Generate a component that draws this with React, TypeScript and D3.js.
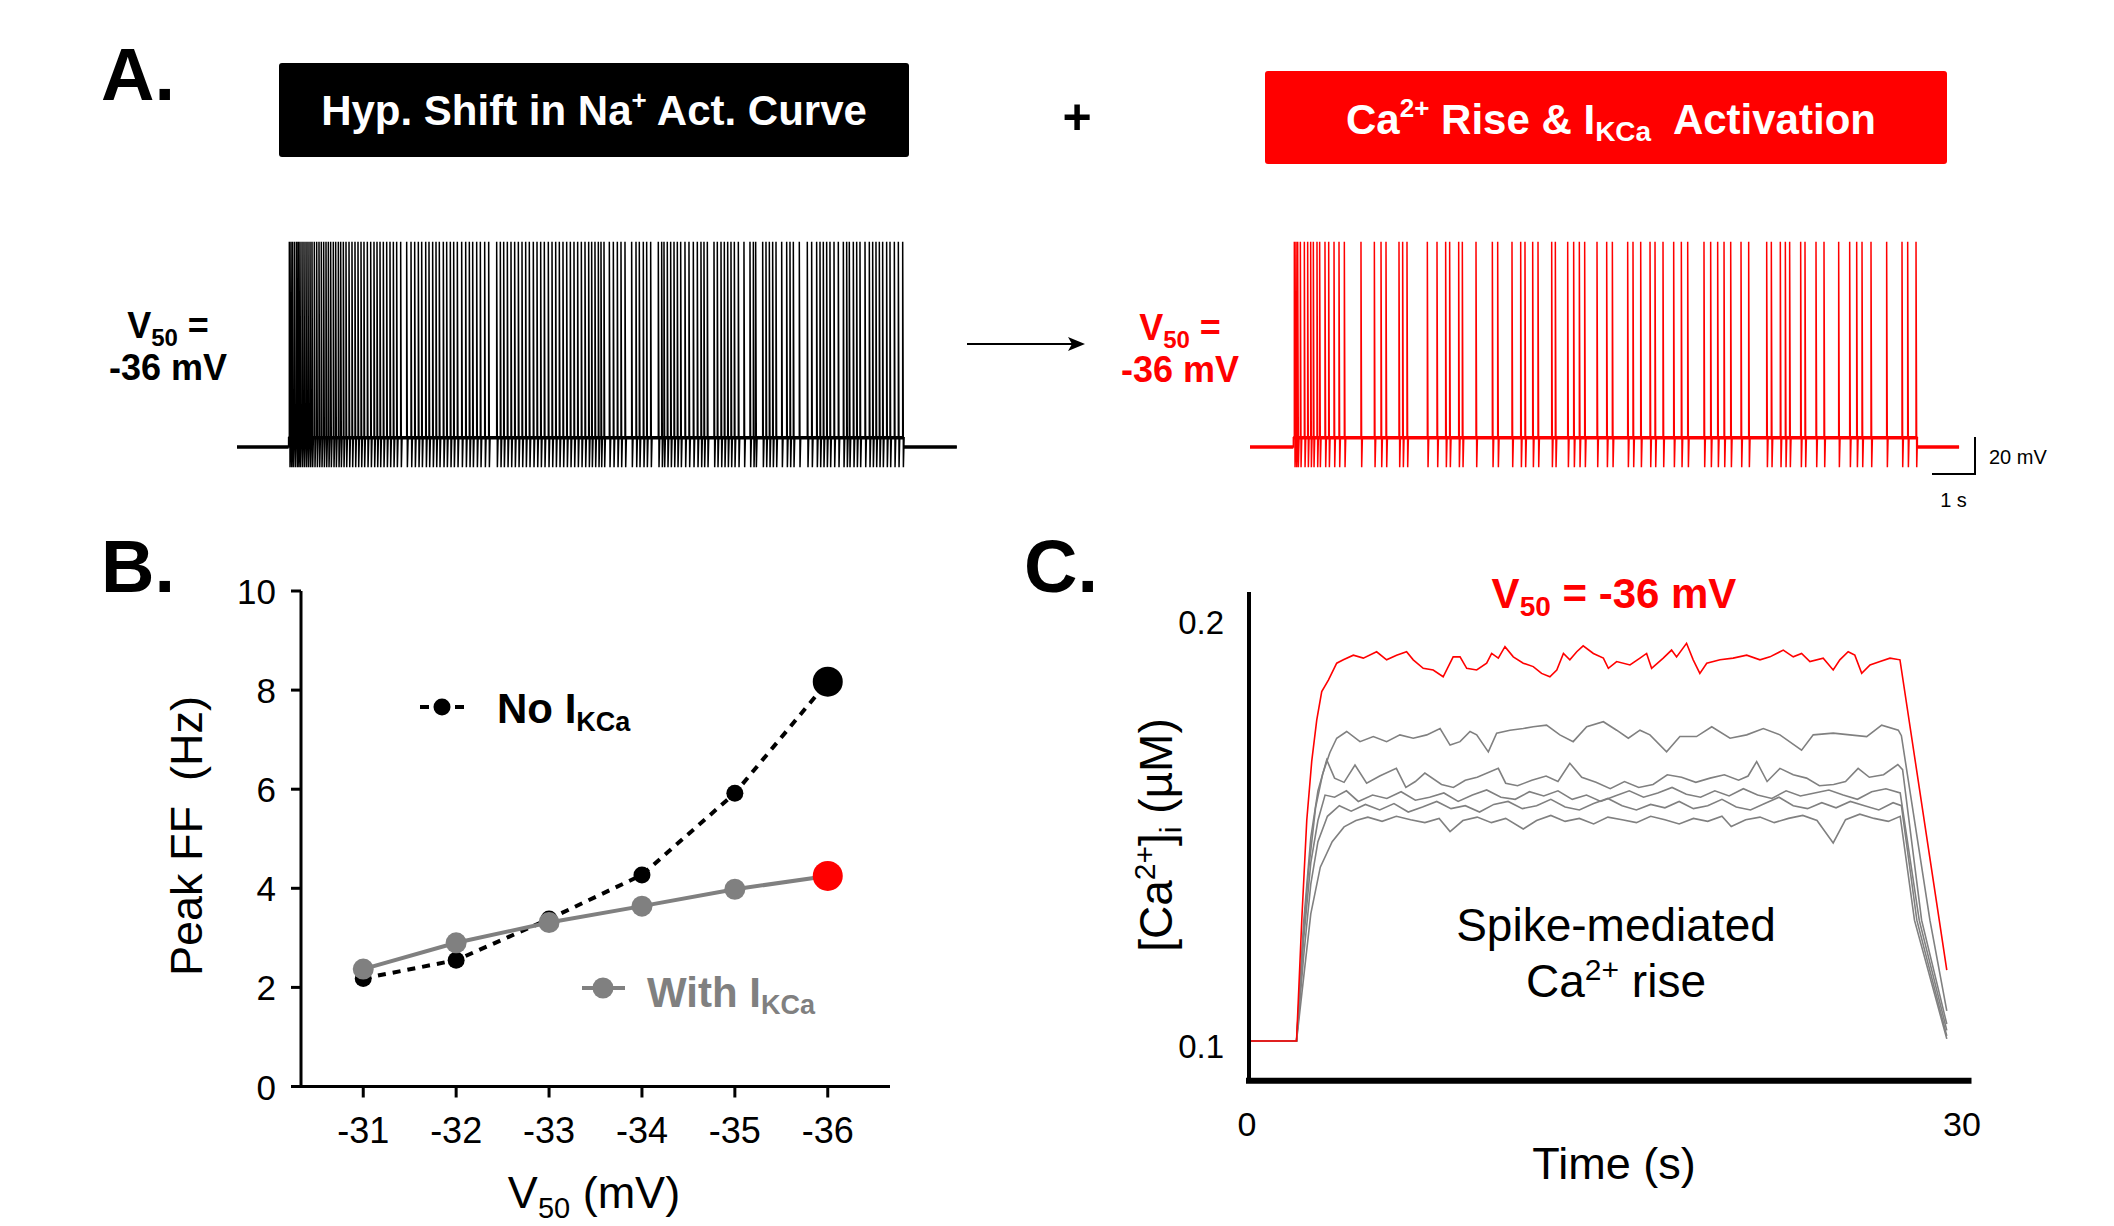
import React from 'react';
import * as d3 from 'd3';

const FONT = "'Liberation Sans', Arial, Helvetica, sans-serif";
const RED = '#ff0000';
const GRAY = '#808080';

// ---------- Panel A: spike times (s) ----------
const blackSpikeTimes = [
  1.217, 1.256, 1.295, 1.341, 1.388, 1.426, 1.465, 1.512, 1.558, 1.605, 1.651, 1.698, 1.744, 1.798, 1.853,
  1.907, 1.961, 2.016, 2.07, 2.124, 2.178, 2.24, 2.295, 2.357, 2.411, 2.473, 2.535, 2.605, 2.674, 2.744,
  2.814, 2.884, 2.953, 3.031, 3.109, 3.186, 3.256, 3.326, 3.403, 3.481, 3.558, 3.636, 3.713, 3.806, 3.946,
  4.047, 4.132, 4.217, 4.295, 4.388, 4.465, 4.55, 4.628, 4.705, 4.798, 4.876, 4.961, 5.039, 5.124, 5.225,
  5.318, 5.403, 5.481, 5.574, 5.659, 5.76, 5.853, 6.039, 6.124, 6.202, 6.287, 6.372, 6.457, 6.543, 6.628,
  6.713, 6.798, 6.891, 6.977, 7.062, 7.147, 7.24, 7.326, 7.411, 7.496, 7.581, 7.667, 7.752, 7.837, 7.922,
  8.008, 8.093, 8.178, 8.248, 8.325, 8.403, 8.465, 8.535, 8.659, 8.752, 8.845, 8.93, 9.023, 9.178, 9.279,
  9.356, 9.449, 9.527, 9.62, 9.798, 9.876, 9.93, 10.007, 10.085, 10.163, 10.24, 10.318, 10.418, 10.511,
  10.612, 10.705, 10.79, 10.86, 10.938, 11.093, 11.17, 11.256, 11.333, 11.411, 11.488, 11.566, 11.659,
  11.79, 11.93, 12.008, 12.062, 12.225, 12.302, 12.38, 12.457, 12.535, 12.667, 12.783, 12.86, 12.938,
  13.077, 13.263, 13.364, 13.48, 13.558, 13.635, 13.713, 13.79, 13.884, 13.984, 14.101, 14.178, 14.24,
  14.333, 14.411, 14.488, 14.605, 14.705, 14.783, 14.86, 14.938, 15.015, 15.108, 15.186, 15.287, 15.38, 15.481,
];
const redSpikeTimes = [
  1.031, 1.07, 1.109, 1.171, 1.264, 1.341, 1.411, 1.473, 1.558, 1.62, 1.744, 1.83, 1.954, 2.07, 2.194,
  2.581, 2.892, 3.047, 3.163, 3.465, 3.55, 3.651, 4.124, 4.349, 4.55, 4.643, 4.853, 4.938, 5.256, 5.636,
  5.76, 6.093, 6.295, 6.395, 6.574, 6.698, 7.016, 7.101, 7.388, 7.527, 7.659, 7.783, 8.07, 8.295, 8.427,
  8.783, 8.907, 9.086, 9.303, 9.419, 9.605, 9.853, 10.031, 10.179, 10.558, 10.713, 10.876, 11.024, 11.179,
  11.419, 11.597, 12.016, 12.124, 12.333, 12.45, 12.55, 12.806, 12.907, 13.163, 13.349, 13.69, 13.946,
  14.109, 14.233, 14.442, 14.806, 15.163, 15.295, 15.489,
];
const blackStim = [1.2, 15.51];
const redStim = [1.008, 15.52];
const blackTraceEnd = 16.74;
const redTraceEnd = 16.49;
const restMV = -65;
const plateauMV = -60;
const peakMV = 46;
const troughMV = -76;

// ---------- Panel B ----------
const v50Levels = [-31, -32, -33, -34, -35, -36];
const ffNoIKCa = [2.18, 2.55, 3.38, 4.27, 5.92, 8.17];
const ffWithIKCa = [2.37, 2.9, 3.31, 3.64, 3.98, 4.25];
const ffTicks = [0, 2, 4, 6, 8, 10];

// ---------- Panel C: [Ca2+]i (uM) vs time (s) ----------
const caRed = [
  [0, 0.1], [2.0, 0.1], [2.22, 0.1285], [2.43, 0.152], [2.64, 0.166], [2.85, 0.1757], [3.06, 0.1824],
  [3.34, 0.1851], [3.69, 0.1891], [3.97, 0.1899], [4.39, 0.191], [4.81, 0.1903], [5.37, 0.1918], [5.79, 0.1899],
  [6.21, 0.191], [6.63, 0.1918], [6.91, 0.1899], [7.33, 0.1879], [7.75, 0.1875], [8.17, 0.1859], [8.59, 0.1906],
  [8.88, 0.1906], [9.16, 0.1879], [9.58, 0.1875], [10.0, 0.1891], [10.21, 0.1914], [10.49, 0.1903], [10.77, 0.193],
  [11.12, 0.1906], [11.54, 0.1891], [11.96, 0.1883], [12.31, 0.1867], [12.66, 0.1859], [12.95, 0.1875],
  [13.23, 0.1914], [13.5, 0.1899], [13.79, 0.1918], [14.06, 0.1932], [14.49, 0.1914], [14.91, 0.1903],
  [15.12, 0.1879], [15.47, 0.1895], [16.03, 0.1887], [16.45, 0.1903], [16.73, 0.1914], [16.94, 0.1879],
  [17.43, 0.1903], [17.78, 0.1922], [17.99, 0.1906], [18.41, 0.1938], [18.69, 0.1899], [18.97, 0.1867],
  [19.26, 0.1891], [19.82, 0.1899], [20.37, 0.1903], [20.94, 0.191], [21.5, 0.1899], [21.92, 0.1906],
  [22.48, 0.1922], [22.9, 0.1906], [23.25, 0.1914], [23.6, 0.1895], [24.16, 0.1903], [24.58, 0.1875],
  [24.86, 0.1899], [25.21, 0.1918], [25.49, 0.191], [25.78, 0.1867], [26.13, 0.1887], [26.55, 0.1895],
  [26.97, 0.1903], [27.39, 0.1899], [29.0, 0.1301], [29.36, 0.1167],
];
const caGray35 = [
  [0, 0.1], [2.0, 0.1], [2.25, 0.122], [2.5, 0.14], [2.8, 0.155], [3.1, 0.163], [3.4, 0.168], [3.69, 0.1714],
  [4.11, 0.173], [4.67, 0.1706], [5.23, 0.1718], [5.79, 0.1706], [6.35, 0.1722], [6.91, 0.1714], [7.48, 0.1722],
  [8.04, 0.1737], [8.46, 0.1698], [8.88, 0.1706], [9.3, 0.173], [9.58, 0.1722], [10.07, 0.1682], [10.42, 0.1726],
  [10.98, 0.1733], [11.54, 0.1737], [11.96, 0.1741], [12.52, 0.1745], [13.08, 0.1722], [13.64, 0.1706],
  [14.21, 0.1741], [14.91, 0.1753], [15.47, 0.1733], [15.96, 0.1714], [16.45, 0.1733], [16.87, 0.1722],
  [17.57, 0.1682], [18.13, 0.1718], [18.83, 0.1718], [19.47, 0.1741], [20.24, 0.1714], [20.94, 0.1722],
  [21.64, 0.1737], [22.34, 0.1722], [23.25, 0.1686], [23.74, 0.1722], [24.58, 0.1726], [25.28, 0.1722],
  [25.99, 0.1718], [26.62, 0.1745], [27.32, 0.1733], [27.45, 0.172], [28.65, 0.1285], [29.36, 0.1071],
];
const caGray34 = [
  [0, 0.1], [2.0, 0.1], [2.3, 0.128], [2.6, 0.148], [2.9, 0.159], [3.27, 0.1663], [3.6, 0.162], [4.0, 0.161],
  [4.46, 0.1651], [4.95, 0.1608], [5.5, 0.1625], [6.2, 0.1643], [6.6, 0.1598], [7.0, 0.1612], [7.4, 0.1632],
  [8.1, 0.1605], [8.6, 0.1598], [9.1, 0.1615], [9.6, 0.1622], [10.49, 0.1643], [10.8, 0.1608], [11.3, 0.1602],
  [11.9, 0.1615], [12.5, 0.1625], [13.0, 0.1612], [13.5, 0.1655], [14.0, 0.1622], [14.6, 0.161], [15.2, 0.1595],
  [15.8, 0.1612], [16.4, 0.1598], [17.0, 0.1605], [17.6, 0.1628], [18.2, 0.1622], [18.8, 0.161], [19.4, 0.162],
  [20.0, 0.1628], [20.6, 0.1615], [21.0, 0.1625], [21.36, 0.1659], [21.8, 0.1612], [22.34, 0.1643],
  [22.9, 0.1628], [23.46, 0.162], [24.0, 0.1602], [24.6, 0.1605], [25.1, 0.1612], [25.63, 0.1643],
  [26.1, 0.1622], [26.7, 0.1628], [27.3, 0.1652], [27.5, 0.164], [28.3, 0.1285], [29.36, 0.104],
];
const caGray33 = [
  [0, 0.1], [2.0, 0.1], [2.3, 0.124], [2.6, 0.142], [2.9, 0.152], [3.2, 0.158], [3.6, 0.1575], [4.1, 0.159],
  [4.6, 0.1565], [5.2, 0.158], [5.8, 0.1572], [6.4, 0.1588], [7.0, 0.1568], [7.6, 0.1575], [8.2, 0.1585],
  [8.8, 0.1565], [9.4, 0.158], [10.0, 0.1592], [10.6, 0.1575], [11.2, 0.157], [11.8, 0.1588], [12.4, 0.1578],
  [13.0, 0.159], [13.6, 0.157], [14.2, 0.158], [14.8, 0.1565], [15.4, 0.1578], [16.0, 0.159], [16.6, 0.1575],
  [17.2, 0.1585], [17.8, 0.1598], [18.4, 0.1582], [19.0, 0.1575], [19.6, 0.159], [20.2, 0.1578], [20.8, 0.1595],
  [21.4, 0.158], [22.0, 0.1572], [22.6, 0.159], [23.2, 0.1578], [23.8, 0.1585], [24.4, 0.1592], [25.0, 0.158],
  [25.6, 0.157], [26.2, 0.1588], [26.8, 0.1595], [27.4, 0.1585], [28.2, 0.1285], [29.36, 0.1025],
];
const caGray32 = [
  [0, 0.1], [2.0, 0.1], [2.3, 0.12], [2.6, 0.137], [2.9, 0.147], [3.3, 0.153], [3.8, 0.1555], [4.3, 0.1542],
  [4.9, 0.1558], [5.5, 0.1545], [6.1, 0.156], [6.7, 0.154], [7.3, 0.1552], [7.9, 0.1565], [8.5, 0.1548],
  [9.1, 0.1555], [9.7, 0.154], [10.3, 0.1558], [10.9, 0.1565], [11.5, 0.1548], [12.1, 0.1555], [12.7, 0.157],
  [13.3, 0.1552], [13.9, 0.1545], [14.5, 0.156], [15.1, 0.1572], [15.7, 0.1555], [16.3, 0.1545], [16.9, 0.1558],
  [17.5, 0.155], [18.1, 0.1565], [18.7, 0.1548], [19.3, 0.1555], [19.9, 0.157], [20.5, 0.1552], [21.1, 0.1545],
  [21.7, 0.156], [22.3, 0.1575], [22.9, 0.1555], [23.5, 0.1548], [24.1, 0.1562], [24.7, 0.155], [25.3, 0.1565],
  [25.9, 0.1555], [26.5, 0.1545], [27.1, 0.1562], [27.45, 0.1555], [28.1, 0.1285], [29.36, 0.1012],
];
const caGray31 = [
  [0, 0.1], [2.0, 0.1], [2.3, 0.115], [2.6, 0.13], [3.0, 0.141], [3.5, 0.147], [4.0, 0.1505], [4.5, 0.152],
  [5.0, 0.1528], [5.6, 0.1518], [6.2, 0.153], [6.8, 0.1522], [7.4, 0.1515], [8.0, 0.1525], [8.46, 0.1494],
  [9.0, 0.152], [9.6, 0.1528], [10.2, 0.1515], [10.8, 0.1525], [11.54, 0.15], [12.1, 0.152], [12.7, 0.1532],
  [13.3, 0.1518], [13.9, 0.1525], [14.5, 0.1512], [15.1, 0.1528], [15.7, 0.1522], [16.3, 0.1515], [16.9, 0.153],
  [17.5, 0.1522], [18.1, 0.1512], [18.7, 0.1525], [19.3, 0.1518], [19.9, 0.153], [20.29, 0.1506], [20.9, 0.1522],
  [21.5, 0.1528], [22.1, 0.1515], [22.7, 0.1525], [23.3, 0.1532], [23.9, 0.152], [24.58, 0.1467], [25.1, 0.1522],
  [25.7, 0.1535], [26.3, 0.1525], [26.9, 0.1518], [27.4, 0.153], [28.0, 0.1285], [29.36, 0.1005],
];
const caTicks = [0.1, 0.2];
const timeTicks = [0, 30];

// ---------- scales ----------
const PX_PER_S = 43;
const xBlack = d3.scaleLinear().domain([0, blackTraceEnd]).range([237, 237 + blackTraceEnd * PX_PER_S]);
const xRed = d3.scaleLinear().domain([0, redTraceEnd]).range([1250, 1250 + redTraceEnd * PX_PER_S]);
const yA = d3.scaleLinear().domain([-80, 50]).range([474.75, 234.25]);

const xB = d3.scaleLinear().domain([-30.33, -36.67]).range([301, 890]);
const yB = d3.scaleLinear().domain([0, 10]).range([1086.5, 591]);

const xC = d3.scaleLinear().domain([0, 30]).range([1249, 1962]);
const yC = d3.scaleLinear().domain([0.1, 0.2]).range([1041, 617]);

function spikePath(xs: d3.ScaleLinear<number, number>, spikes: number[], stim: number[], end: number) {
  const pts: [number, number][] = [];
  pts.push([xs(0), yA(restMV)], [xs(stim[0]), yA(restMV)], [xs(stim[0]), yA(plateauMV)]);
  spikes.forEach((t) => {
    const x = xs(t);
    pts.push([x, yA(plateauMV)], [x, yA(peakMV)], [x + 0.7, yA(troughMV)], [x + 1.4, yA(plateauMV)]);
  });
  pts.push([xs(stim[1]), yA(plateauMV)], [xs(stim[1]), yA(restMV)], [xs(end), yA(restMV)]);
  return d3.line()(pts) as string;
}

function baselinePath(xs: d3.ScaleLinear<number, number>, stim: number[], end: number) {
  const p1 = d3.line()([[xs(0), yA(restMV)], [xs(stim[0]), yA(restMV)]]);
  const p2 = d3.line()([[xs(stim[0]), yA(plateauMV)], [xs(stim[1]), yA(plateauMV)]]);
  const p3 = d3.line()([[xs(stim[1]), yA(restMV)], [xs(end), yA(restMV)]]);
  return `${p1}${p2}${p3}`;
}

const caLine = d3
  .line<number[]>()
  .x((d) => xC(d[0]))
  .y((d) => yC(d[1]));

export default function App() {
  const bPts = (vals: number[]) => v50Levels.map((v, i) => [xB(v), yB(vals[i])] as [number, number]);
  const noPts = bPts(ffNoIKCa);
  const withPts = bPts(ffWithIKCa);
  const sbX1 = 1975;
  const sbX0 = sbX1 - (xRed(1) - xRed(0));
  const sbY1 = 474;
  const sbY0 = sbY1 - (yA(-60) - yA(-40));

  return (
    <svg
      width={2114}
      height={1226}
      style={{ position: 'absolute', left: 0, top: 0, background: '#fff' }}
      fontFamily={FONT}
    >
      <rect x={0} y={0} width={2114} height={1226} fill="#fff" />

      {/* ================= Panel A ================= */}
      <text x={101} y={100} fontSize={74} fontWeight="bold">A.</text>
      <rect x={279} y={63} width={630} height={94} rx={3} fill="#000" />
      <text x={594} y={125} fontSize={42} fontWeight="bold" fill="#fff" textAnchor="middle">
        Hyp. Shift in Na<tspan fontSize={26} dy={-16}>+</tspan>
        <tspan dy={16}> Act. Curve</tspan>
      </text>
      <text x={1077} y={134} fontSize={50} fontWeight="bold" textAnchor="middle">+</text>
      <rect x={1265} y={71} width={682} height={93} rx={3} fill={RED} />
      <text x={1611} y={134} fontSize={42} fontWeight="bold" fill="#fff" textAnchor="middle">
        Ca<tspan fontSize={26} dy={-17}>2+</tspan>
        <tspan dy={17}> Rise &amp; I</tspan>
        <tspan fontSize={28} dy={7}>KCa</tspan>
        <tspan dy={-7}>{'\u00a0 Activation'}</tspan>
      </text>

      {/* black trace */}
      <text x={168} y={338} fontSize={36} fontWeight="bold" textAnchor="middle">
        V<tspan fontSize={24} dy={8}>50</tspan>
        <tspan dy={-8}> =</tspan>
      </text>
      <text x={168} y={380} fontSize={36} fontWeight="bold" textAnchor="middle">-36 mV</text>
      <path d={baselinePath(xBlack, blackStim, blackTraceEnd)} fill="none" stroke="#000" strokeWidth={3.5} />
      <path d={spikePath(xBlack, blackSpikeTimes, blackStim, blackTraceEnd)} fill="none" stroke="#000" strokeWidth={1.5} />

      {/* arrow */}
      <line x1={967} y1={344} x2={1072} y2={344} stroke="#000" strokeWidth={2} />
      <polygon points="1068,337 1085,344 1068,351 1072,344" fill="#000" />

      {/* red trace */}
      <text x={1180} y={340} fontSize={36} fontWeight="bold" textAnchor="middle" fill={RED}>
        V<tspan fontSize={24} dy={8}>50</tspan>
        <tspan dy={-8}> =</tspan>
      </text>
      <text x={1180} y={382} fontSize={36} fontWeight="bold" textAnchor="middle" fill={RED}>-36 mV</text>
      <path d={baselinePath(xRed, redStim, redTraceEnd)} fill="none" stroke={RED} strokeWidth={3.5} />
      <path d={spikePath(xRed, redSpikeTimes, redStim, redTraceEnd)} fill="none" stroke={RED} strokeWidth={1.5} />

      {/* scale bar */}
      <path d={`M${sbX0},${sbY1}H${sbX1}V${sbY0}`} fill="none" stroke="#000" strokeWidth={2} />
      <text x={1989} y={464} fontSize={20}>20 mV</text>
      <text x={(sbX0 + sbX1) / 2} y={507} fontSize={20} textAnchor="middle">1 s</text>

      {/* ================= Panel B ================= */}
      <text x={101} y={592} fontSize={74} fontWeight="bold">B.</text>
      <line x1={xB.range()[0]} y1={yB(0)} x2={xB.range()[0]} y2={yB(10)} stroke="#000" strokeWidth={3} />
      <line x1={291} y1={yB(0)} x2={xB.range()[1]} y2={yB(0)} stroke="#000" strokeWidth={3} />
      {ffTicks.map((t) => (
        <g key={`yt${t}`}>
          <line x1={291} x2={301} y1={yB(t)} y2={yB(t)} stroke="#000" strokeWidth={3} />
          <text x={276} y={yB(t) + 13} fontSize={35} textAnchor="end">{t}</text>
        </g>
      ))}
      {v50Levels.map((v) => (
        <g key={`xt${v}`}>
          <line x1={xB(v)} x2={xB(v)} y1={yB(0)} y2={yB(0) + 11} stroke="#000" strokeWidth={3} />
          <text x={xB(v)} y={1143} fontSize={36} textAnchor="middle">{String(v)}</text>
        </g>
      ))}
      <text transform="translate(202,836) rotate(-90)" fontSize={45} textAnchor="middle">
        {'Peak FF\u00a0 (Hz)'}
      </text>
      <text x={594} y={1208} fontSize={45} textAnchor="middle">
        V<tspan fontSize={29} dy={10}>50</tspan>
        <tspan dy={-10}> (mV)</tspan>
      </text>

      {/* No IKCa */}
      <path d={d3.line()(noPts) as string} fill="none" stroke="#000" strokeWidth={4} strokeDasharray="8,7" />
      {noPts.map((p, i) => (
        <circle key={`nb${i}`} cx={p[0]} cy={p[1]} r={i === noPts.length - 1 ? 15 : 8.5} fill="#000" />
      ))}
      {/* With IKCa */}
      <path d={d3.line()(withPts) as string} fill="none" stroke={GRAY} strokeWidth={4} />
      {withPts.map((p, i) => (
        <circle
          key={`wb${i}`}
          cx={p[0]}
          cy={p[1]}
          r={i === withPts.length - 1 ? 15 : 10.5}
          fill={i === withPts.length - 1 ? RED : GRAY}
        />
      ))}

      {/* legend */}
      <line x1={420} x2={464} y1={707} y2={707} stroke="#000" strokeWidth={4} strokeDasharray="9,26" />
      <line x1={461} x2={464} y1={707} y2={707} stroke="#000" strokeWidth={4} />
      <circle cx={442} cy={707} r={8.5} fill="#000" />
      <text x={497} y={723} fontSize={42} fontWeight="bold">
        No I<tspan fontSize={27} dy={8}>KCa</tspan>
      </text>
      <line x1={582} x2={625} y1={988} y2={988} stroke={GRAY} strokeWidth={4} />
      <circle cx={603} cy={988} r={10.5} fill={GRAY} />
      <text x={647} y={1007} fontSize={42} fontWeight="bold" fill={GRAY}>
        With I<tspan fontSize={27} dy={7}>KCa</tspan>
      </text>

      {/* ================= Panel C ================= */}
      <text x={1024} y={592} fontSize={74} fontWeight="bold">C.</text>
      {[caGray31, caGray32, caGray33, caGray34, caGray35].map((d, i) => (
        <path key={`g${i}`} d={caLine(d) as string} fill="none" stroke={GRAY} strokeWidth={1.6} />
      ))}
      <path d={caLine(caRed) as string} fill="none" stroke={RED} strokeWidth={1.6} />
      <line x1={xC(0)} y1={yC(0.2059)} x2={xC(0)} y2={yC(0.0906)} stroke="#000" strokeWidth={4} />
      <line x1={xC(0) - 3} y1={yC(0.0906)} x2={xC(30.4)} y2={yC(0.0906)} stroke="#000" strokeWidth={6} />
      {caTicks.map((t) => (
        <text key={`ct${t}`} x={1224} y={yC(t) + 16.5} fontSize={33} textAnchor="end">{t.toFixed(1)}</text>
      ))}
      {timeTicks.map((t) => (
        <text key={`tt${t}`} x={xC(t) - (t === 0 ? 2 : 0)} y={1136} fontSize={34} textAnchor="middle">{t}</text>
      ))}
      <text x={1614} y={1179} fontSize={45} textAnchor="middle">Time (s)</text>
      <text transform="translate(1172,835) rotate(-90)" fontSize={46} textAnchor="middle">
        [Ca<tspan fontSize={30} dy={-17}>2+</tspan>
        <tspan dy={17}>]</tspan>
        <tspan fontSize={30} dy={9}>i</tspan>
        <tspan dy={-9}> (µM)</tspan>
      </text>
      <text x={1614} y={608} fontSize={42} fontWeight="bold" fill={RED} textAnchor="middle">
        V<tspan fontSize={28} dy={8}>50</tspan>
        <tspan dy={-8}> = -36 mV</tspan>
      </text>
      <text x={1616} y={941} fontSize={46} textAnchor="middle">Spike-mediated</text>
      <text x={1616} y={997} fontSize={46} textAnchor="middle">
        Ca<tspan fontSize={30} dy={-17}>2+</tspan>
        <tspan dy={17}> rise</tspan>
      </text>
    </svg>
  );
}
